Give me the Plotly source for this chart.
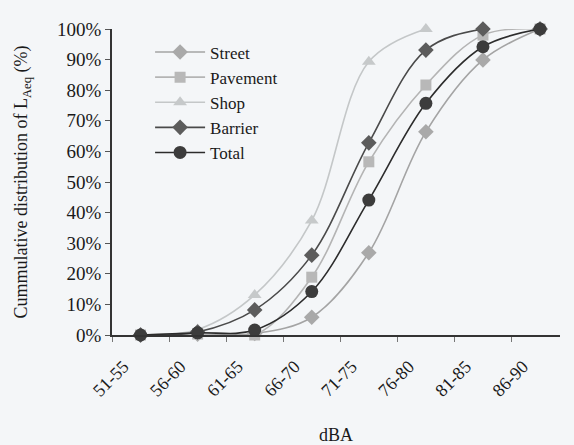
import plotly.graph_objects as go

# Sound-level bands (dBA) and cumulative share of LAeq readings per location
bands = ["51-55", "56-60", "61-65", "66-70", "71-75", "76-80", "81-85", "86-90"]
street = [0, 0.3, 0.5, 5.8, 26.9, 66.4, 89.9, 100]
pavement = [0, 0.3, 0, 18.9, 56.6, 81.7, 98.0, 100]
shop = [0, 1.8, 13.1, 37.4, 89.3, 100, None, None]
barrier = [0, 1.0, 8.2, 26.1, 62.8, 93.1, 100, 100]
total = [0, 0.7, 1.6, 14.2, 44.1, 75.7, 94.2, 100]

y_ticks = list(range(0, 101, 10))
y_labels = [f"{v}%" for v in y_ticks]

SERIF = "Liberation Serif, Times New Roman, serif"

series = [
    ("Street", street, "diamond", "#a9a9a9", "#a4a4a4", 12),
    ("Pavement", pavement, "square", "#b8b8b8", "#b4b4b4", 11),
    ("Shop", shop, "triangle-up", "#c6c9ca", "#c4c7c8", 12),
    ("Barrier", barrier, "diamond", "#5c5c5c", "#4a4a4a", 12),
    ("Total", total, "circle", "#3c3c3c", "#2c2c2c", 13),
]

fig = go.Figure()
for name, vals, sym, mcol, lcol, size in series:
    fig.add_trace(go.Scatter(
        x=bands, y=vals, name=name, mode="lines+markers",
        line=dict(color=lcol, width=1.6, shape="spline"),
        marker=dict(symbol=sym, size=size, color=mcol),
        cliponaxis=False, connectgaps=False,
    ))

fig.update_layout(
    width=574, height=445,
    margin=dict(l=112, r=14, t=29, b=110),
    paper_bgcolor="#f4f6f8", plot_bgcolor="#f4f6f8",
    font=dict(family=SERIF, color="#1a1a1a", size=18),
    showlegend=True,
    legend=dict(
        x=0.085, y=0.982, xanchor="left", yanchor="top",
        bgcolor="rgba(0,0,0,0)", font=dict(size=17, family=SERIF, color="#1a1a1a"),
        tracegroupgap=0, itemwidth=50,
    ),
)
fig.update_xaxes(
    type="category", range=[-0.5, 7.35],
    showline=True, linecolor="#333333", linewidth=2,
    ticks="outside", tickson="boundaries", ticklen=5, tickcolor="#777777",
    tickangle=-45, tickfont=dict(size=18, family=SERIF),
    ticklabelshift=-17, ticklabelstandoff=12,
    showgrid=False, zeroline=False, automargin=False,
    title=dict(text="dBA", font=dict(size=18, family=SERIF), standoff=35),
)
fig.update_yaxes(
    range=[0, 100], tickvals=y_ticks, ticktext=y_labels,
    showline=True, linecolor="#333333", linewidth=1.5,
    ticks="outside", ticklen=5, tickcolor="#555555",
    tickfont=dict(size=19, family=SERIF),
    showgrid=False, zeroline=False, automargin=False,
    title=dict(text="Cummulative distribution of L<sub>Aeq</sub> (%)",
               font=dict(size=18, family=SERIF), standoff=25),
)

fig.write_html("out.html")
